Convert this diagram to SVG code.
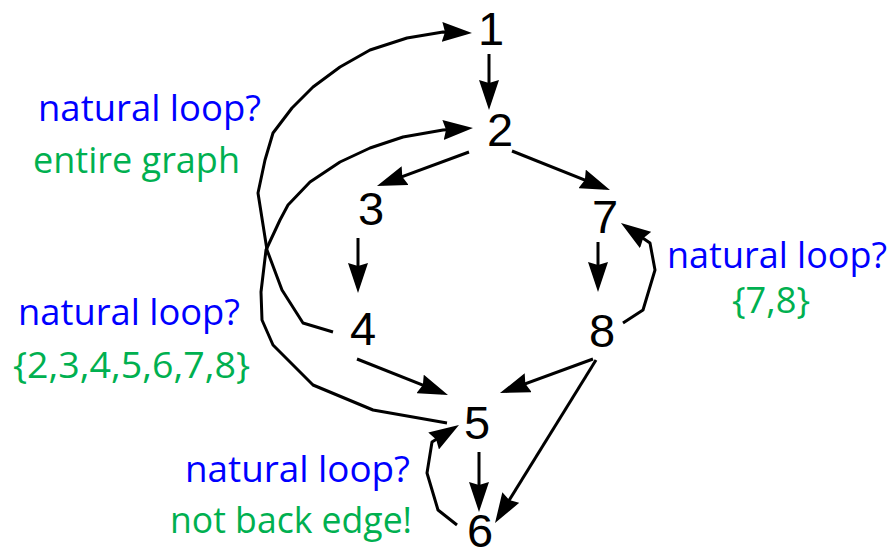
<svg xmlns="http://www.w3.org/2000/svg" width="895" height="550" viewBox="0 0 895 550">
<style>
.n{font-family:"Liberation Sans",Arial,sans-serif;font-size:47px;fill:#000;text-anchor:middle}
.q{font-family:"Open Sans","Noto Sans",sans-serif;font-size:36px;fill:#0000FF}
.a{font-family:"Open Sans","Noto Sans",sans-serif;font-size:36px;fill:#00B050}
.e{fill:none;stroke:#000;stroke-width:3;stroke-linejoin:round;marker-end:url(#ah)}
</style>
<defs>
<marker id="ah" viewBox="0 0 30 20" markerWidth="30" markerHeight="20" refX="24" refY="10" orient="auto" markerUnits="userSpaceOnUse">
<path d="M0,0 L30,10 L0,20 L3,10 z" fill="#000"/>
</marker>
</defs>
<rect width="895" height="550" fill="#fff"/>
<g id="connectors">
<path class="e" d="M489,54 L489,104"/>
<path class="e" d="M469,152 L382.6,183.9"/>
<path class="e" d="M512,151 L604.4,187.8"/>
<path class="e" d="M358,238 L358,287"/>
<path class="e" d="M598,242 L598,286"/>
<path class="e" d="M357,359 L442.4,392.8"/>
<path class="e" d="M593,359 L505.6,391"/>
<path class="e" d="M596,360 L498.2,517.9"/>
<path class="e" d="M479,452 L479,506"/>
<path class="e" d="M457,525 L438,510 L427,473 L432,442 L453.9,428.2"/>
<path class="e" d="M623,323 L643,310 L655,270 L650,243 L625.9,226.4"/>
<path class="e" d="M333,332 L303,323 L282,290 L267,250 L258,193 L265,160 L273,133 L292,108 L313,87 L340,67 L370,50 L407,38 L443,32 L466,32.8"/>
<path class="e" d="M447,423 L373,410 L313,385 L273,345 L262,320 L261,292 L266,250 L280,220 L288,205 L310,182 L340,162 L370,148 L403,137 L443,130 L467,128.4"/>
</g>
<g id="node1"><text class="n" x="491" y="45">1</text></g>
<g id="node2"><text class="n" x="500" y="146">2</text></g>
<g id="node3"><text class="n" x="371" y="225">3</text></g>
<g id="node4"><text class="n" x="363" y="345">4</text></g>
<g id="node5"><text class="n" x="477" y="439">5</text></g>
<g id="node6"><text class="n" x="480" y="547">6</text></g>
<g id="node7"><text class="n" x="605" y="233">7</text></g>
<g id="node8"><text class="n" x="602" y="347">8</text></g>
<g id="labels">
<text class="q" x="38" y="121" textLength="223" lengthAdjust="spacingAndGlyphs">natural loop?</text>
<text class="a" x="33" y="173" textLength="207" lengthAdjust="spacingAndGlyphs">entire graph</text>
<text class="q" x="18" y="325" textLength="222" lengthAdjust="spacingAndGlyphs">natural loop?</text>
<text class="a" x="13" y="378" textLength="237" lengthAdjust="spacingAndGlyphs">{2,3,4,5,6,7,8}</text>
<text class="q" x="667" y="268" textLength="220" lengthAdjust="spacingAndGlyphs">natural loop?</text>
<text class="a" x="732" y="313" textLength="78" lengthAdjust="spacingAndGlyphs">{7,8}</text>
<text class="q" x="185" y="482" textLength="225" lengthAdjust="spacingAndGlyphs">natural loop?</text>
<text class="a" x="170" y="533" textLength="242" lengthAdjust="spacingAndGlyphs">not back edge!</text>
</g>
</svg>
